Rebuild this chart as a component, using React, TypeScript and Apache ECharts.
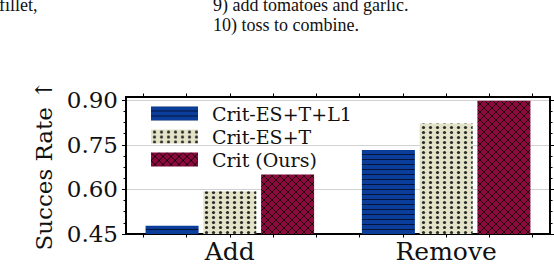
import React, { useEffect, useRef } from 'react';
import * as echarts from 'echarts';

const categories = ['Add', 'Remove'];
const seriesNames = ['Crit-ES+T+L1', 'Crit-ES+T', 'Crit (Ours)'];
const critEsTL1 = [0.478, 0.733];
const critEsT = [0.594, 0.822];
const critOurs = [0.65, 0.898];
const yTickValues = [0.45, 0.6, 0.75, 0.9];
const xTickValues = [-0.4, -0.2, 0, 0.2, 0.4, 0.6, 0.8, 1, 1.2, 1.4];
const captionLeft = ['fillet,'];
const captionRight = ['9) add tomatoes and garlic.', '10) toss to combine.'];

const SERIF = 'DejaVu Serif';
const CAPTION_FONT = 'Liberation Serif';

function yMinorValues(): number[] {
  const out: number[] = [];
  for (let i = 0; i < yTickValues.length - 1; i++) {
    const a = yTickValues[i];
    const b = yTickValues[i + 1];
    for (let k = 1; k < 4; k++) out.push(+(a + ((b - a) * k) / 4).toFixed(5));
  }
  return out;
}

function makePattern(kind: 'lines' | 'dots' | 'cross') {
  const c = document.createElement('canvas');
  const ctx = c.getContext('2d')!;
  if (kind === 'lines') {
    c.width = 8; c.height = 5;
    ctx.fillStyle = '#0b3d9b';
    ctx.fillRect(0, 0, 8, 5);
    ctx.fillStyle = '#06143c';
    ctx.fillRect(0, 4, 8, 1);
  } else if (kind === 'dots') {
    c.width = 7; c.height = 5;
    ctx.fillStyle = '#e3e3c8';
    ctx.fillRect(0, 0, 7, 5);
    ctx.fillStyle = '#2a2a2a';
    ctx.beginPath();
    ctx.arc(3.5, 2.5, 1.6, 0, Math.PI * 2);
    ctx.fill();
  } else {
    c.width = 8; c.height = 8;
    ctx.fillStyle = '#8c0a3c';
    ctx.fillRect(0, 0, 8, 8);
    ctx.strokeStyle = '#1e0010';
    ctx.lineWidth = 1;
    ctx.beginPath();
    ctx.moveTo(0, 0); ctx.lineTo(8, 8);
    ctx.moveTo(8, 0); ctx.lineTo(0, 8);
    ctx.stroke();
  }
  return { image: c, repeat: 'repeat' as const };
}

export default function App() {
  const ref = useRef<HTMLDivElement>(null);
  useEffect(() => {
    if (!ref.current) return;
    const chart = echarts.init(ref.current, null, { renderer: 'svg' });
    const frame = { show: true, onZero: false, lineStyle: { color: '#000', width: 1.8 } };
    const seriesValues = [critEsTL1, critEsT, critOurs];
    const patterns = [makePattern('lines'), makePattern('dots'), makePattern('cross')];
    const minor = yMinorValues();
    const xCommon = {
      type: 'value' as const,
      min: -0.48,
      max: 1.48,
      axisLine: frame,
      splitLine: { show: false },
      axisTick: { show: true, customValues: xTickValues, length: 3.5, lineStyle: { color: '#000', width: 1 } },
    };
    const yCommon = {
      type: 'value' as const,
      min: 0.45,
      max: 0.911,
      interval: 0.15,
      axisLine: frame,
    };
    chart.setOption({
      animation: false,
      backgroundColor: '#fff',
      grid: { left: 126, right: 4, top: 97, bottom: 29, containLabel: false },
      legend: {
        left: 146,
        top: 99,
        orient: 'vertical',
        icon: 'rect',
        itemWidth: 47,
        itemHeight: 14,
        itemGap: 4,
        data: seriesNames,
        textStyle: { fontSize: 19, fontFamily: SERIF, color: '#111', padding: [0, 0, 0, 9] },
      },
      xAxis: [
        {
          ...xCommon,
          position: 'bottom',
          axisLabel: {
            show: true,
            customValues: [0, 1],
            formatter: (v: number) => categories[Math.round(v)] ?? '',
            fontSize: 25,
            fontFamily: SERIF,
            color: '#111',
            margin: 5,
          },
        },
        { ...xCommon, position: 'top', axisLabel: { show: false } },
      ],
      yAxis: [
        {
          ...yCommon,
          position: 'left',
          axisTick: { show: true, customValues: yTickValues, length: 4, lineStyle: { color: '#000', width: 1 } },
          axisLabel: {
            show: true,
            customValues: yTickValues,
            formatter: (v: number) => v.toFixed(2),
            fontSize: 23,
            fontFamily: SERIF,
            color: '#111',
            margin: 8,
          },
          splitLine: { show: true, lineStyle: { color: '#d2d2d2', width: 1 } },
          name: 'Succes Rate ↑',
          nameLocation: 'middle',
          nameGap: 68,
          nameTextStyle: { fontSize: 23, fontFamily: SERIF, color: '#111' },
        },
        {
          ...yCommon,
          position: 'right',
          axisTick: { show: true, customValues: yTickValues, length: 4, lineStyle: { color: '#000', width: 1 } },
          axisLabel: { show: false },
          splitLine: { show: false },
        },
        {
          ...yCommon,
          position: 'left',
          axisTick: { show: true, customValues: minor, length: 2.5, lineStyle: { color: '#000', width: 1 } },
          axisLabel: { show: false },
          splitLine: { show: false },
        },
        {
          ...yCommon,
          position: 'right',
          axisTick: { show: true, customValues: minor, length: 2.5, lineStyle: { color: '#000', width: 1 } },
          axisLabel: { show: false },
          splitLine: { show: false },
        },
      ],
      series: seriesNames.map((name, i) => ({
        type: 'bar',
        name,
        xAxisIndex: 0,
        yAxisIndex: 0,
        barWidth: 53,
        barGap: '9%',
        data: seriesValues[i].map((v, j) => [j, v]),
        itemStyle: { color: patterns[i] },
      })),
      graphic: [
        ...captionLeft.map((t, i) => ({
          type: 'text',
          x: -1,
          y: 5 + i * 20,
          style: { text: t, fontSize: 18, fontFamily: CAPTION_FONT, fill: '#111', verticalAlign: 'middle' },
        })),
        ...captionRight.map((t, i) => ({
          type: 'text',
          x: 213,
          y: 5 + i * 20,
          style: { text: t, fontSize: 18, fontFamily: CAPTION_FONT, fill: '#111', verticalAlign: 'middle' },
        })),
      ],
    });
    return () => chart.dispose();
  }, []);
  return <div ref={ref} style={{ position: 'absolute', left: 0, top: 0, width: 554, height: 264 }} />;
}
